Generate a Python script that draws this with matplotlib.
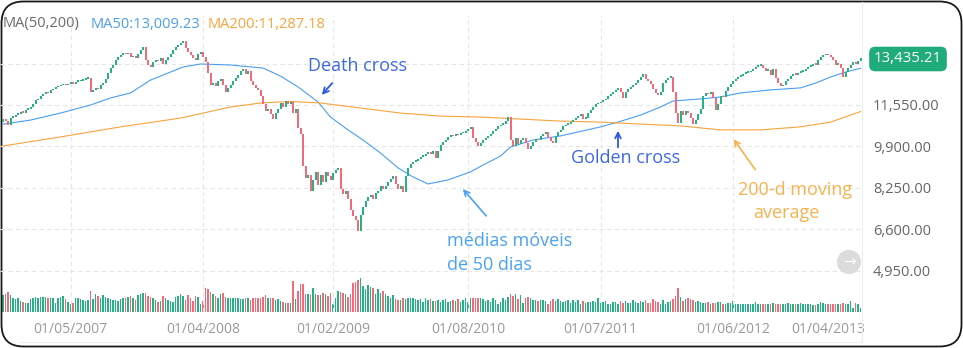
# 均线金叉死叉示意图 (周K线 + MA50/MA200 + 成交量)
import matplotlib
matplotlib.use('Agg')
import matplotlib.pyplot as plt
from matplotlib.patches import FancyBboxPatch
from matplotlib.lines import Line2D
from matplotlib.transforms import IdentityTransform
import numpy as np

plt.rcParams['font.family'] = ['Open Sans', 'DejaVu Sans']

# ---- 数据 ----
first_open = 10900
closes = [
    11030, 10950, 10790, 11070, 11110, 11190, 11230, 11310, 11270, 11390,
    11430, 11510, 11590, 11750, 11790, 11910, 11990, 12070, 12030, 12150,
    12190, 12270, 12310, 12350, 12380, 12350, 12420, 12460, 12420, 12500,
    12520, 12540, 12580, 12620, 12660, 12070, 12150, 12230, 12190, 12350,
    12460, 12620, 12860, 13060, 13180, 13340, 13460, 13540, 13620, 13580,
    13620, 13460, 13500, 13420, 13580, 13740, 13860, 13340, 13180, 13100,
    13260, 13340, 13300, 13420, 13220, 13340, 13460, 13580, 13740, 13860,
    13940, 14050, 14130, 13820, 13660, 13540, 13420, 13340, 13580, 13660,
    13460, 13260, 12860, 12350, 12460, 12310, 12540, 12620, 12380, 12070,
    12230, 12380, 12540, 12660, 12780, 12940, 13020, 12820, 12940, 12540,
    12380, 12230, 12150, 11910, 11590, 11350, 11430, 11230, 11030, 11270,
    11430, 11630, 11510, 11710, 11590, 11670, 11270, 11430, 10640, 10400,
    9160, 8650, 8770, 8170, 8570, 8890, 8370, 8770, 8490, 8890,
    8730, 8570, 8850, 8970, 9050, 8250, 8050, 8170, 7850, 7380,
    7140, 6980, 6580, 7180, 7530, 7770, 7930, 8010, 7850, 8090,
    8170, 8330, 8250, 8330, 8490, 8610, 8730, 8410, 8250, 8330,
    8130, 8730, 9080, 9240, 9320, 9360, 9440, 9520, 9560, 9640,
    9720, 9640, 9760, 9480, 9760, 9960, 10080, 10160, 10280, 10360,
    10320, 10400, 10360, 10440, 10460, 10520, 10600, 10680, 10240, 10080,
    9920, 10040, 10160, 10240, 10320, 10400, 10520, 10600, 10720, 10790,
    10830, 10950, 11110, 10160, 9920, 10240, 10000, 10160, 10240, 10040,
    9840, 9920, 10080, 10200, 10160, 10320, 10400, 10480, 10280, 10120,
    10040, 10320, 10480, 10560, 10720, 10790, 10830, 10910, 10990, 11070,
    11150, 11230, 11030, 11070, 11270, 11390, 11510, 11590, 11630, 11670,
    11750, 11790, 11910, 11990, 12070, 12150, 12230, 12070, 11830, 12070,
    12190, 12270, 12350, 12460, 12580, 12700, 12820, 12620, 12540, 12420,
    12190, 12030, 11950, 12070, 12460, 12580, 12660, 12700, 12070, 11270,
    10870, 11350, 11190, 11350, 11270, 11070, 10830, 10990, 11230, 11430,
    11910, 12030, 11990, 12070, 11830, 11390, 11590, 11910, 11870, 12110,
    12270, 12420, 12540, 12620, 12700, 12740, 12820, 12860, 12880, 12940,
    13020, 13100, 13140, 13180, 13060, 12940, 12980, 12780, 13020, 12660,
    12460, 12310, 12380, 12540, 12620, 12740, 12820, 12780, 12860, 12900,
    12940, 13020, 13100, 13140, 13220, 13180, 13340, 13460, 13540, 13580,
    13540, 13460, 13340, 13180, 13220, 13060, 12700, 12900, 13060, 13180,
    13260, 13220, 13300, 13435.21,
]

volumes = [
    1.7, 1.8, 2.0, 1.7, 1.4, 1.3, 1.4, 1.1, 1.0, 0.9,
    0.9, 1.3, 1.4, 1.5, 1.4, 1.5, 1.5, 1.5, 1.4, 1.4,
    1.4, 0.9, 1.4, 1.5, 1.6, 1.3, 1.0, 0.8, 0.9, 1.4,
    1.4, 1.3, 1.2, 1.1, 1.2, 2.1, 1.3, 1.8, 1.6, 1.4,
    1.7, 1.5, 1.4, 1.3, 1.2, 1.2, 1.1, 1.3, 1.4, 1.4,
    1.5, 1.6, 1.4, 1.2, 1.7, 1.8, 1.9, 1.9, 1.6, 1.5,
    1.4, 1.2, 1.0, 1.1, 1.6, 1.4, 1.2, 1.1, 1.0, 1.5,
    1.6, 1.8, 1.6, 1.2, 1.7, 1.4, 1.1, 1.6, 1.5, 0.8,
    1.1, 2.4, 2.3, 2.0, 1.8, 1.6, 1.4, 1.8, 1.9, 1.5,
    1.4, 1.4, 1.4, 1.4, 1.4, 1.3, 1.3, 1.4, 1.4, 1.2,
    1.4, 1.4, 1.4, 1.4, 1.5, 1.7, 1.4, 1.4, 1.4, 1.2,
    1.3, 1.1, 1.0, 0.9, 0.9, 0.9, 3.1, 1.3, 2.1, 2.8,
    2.8, 1.8, 1.8, 1.7, 2.4, 1.8, 1.7, 1.7, 1.9, 1.8,
    1.6, 1.9, 0.8, 1.4, 2.1, 2.0, 1.9, 1.8, 1.5, 1.8,
    2.9, 3.0, 3.2, 3.4, 2.6, 2.3, 2.7, 2.5, 2.4, 1.8,
    2.3, 1.9, 2.1, 1.8, 1.6, 1.4, 1.7, 1.3, 1.2, 1.2,
    1.4, 1.3, 1.4, 1.4, 1.4, 1.3, 1.2, 1.3, 1.0, 1.4,
    1.2, 1.3, 1.1, 1.1, 1.2, 1.0, 1.2, 1.3, 1.0, 1.1,
    1.2, 1.1, 1.3, 1.0, 1.2, 1.4, 1.0, 1.4, 1.4, 1.4, 1.4, 1.4,
    1.3, 1.1, 1.2, 1.0, 1.4, 1.2, 0.8, 1.0, 1.4, 1.2,
    1.5, 1.8, 1.6, 1.8, 1.3, 1.7, 0.9, 1.4, 1.5, 1.4,
    1.2, 1.2, 1.1, 1.2, 1.2, 1.1, 0.8, 1.1, 1.3, 1.1,
    1.3, 1.1, 1.0, 1.1, 1.2, 0.9, 1.2, 1.0, 1.2, 0.8,
    1.1, 0.9, 1.0, 1.0, 1.1, 1.0, 1.4, 0.9, 1.0, 1.1,
    0.8, 0.8, 1.0, 1.0, 0.8, 1.1, 0.9, 1.1, 0.9, 0.9,
    1.2, 1.0, 0.9, 1.1, 1.0, 1.2, 0.9, 0.9, 1.3, 1.1,
    1.0, 0.8, 1.2, 0.8, 1.0, 1.1, 1.3, 1.6, 2.4, 1.5,
    1.1, 1.3, 1.4, 1.3, 1.2, 1.0, 1.1, 1.0, 0.9, 0.9,
    1.0, 0.8, 0.9, 0.9, 1.0, 1.0, 0.8, 0.8, 0.9, 0.9,
    1.1, 0.8, 0.8, 0.8, 0.8, 0.8, 0.8, 0.8, 0.8, 1.0,
    0.8, 0.8, 0.8, 0.8, 0.8, 0.8, 0.9, 0.8, 0.8, 0.8,
    0.8, 0.8, 0.9, 0.8, 0.8, 0.8, 0.8, 0.9, 0.8, 0.8,
    0.8, 0.8, 0.7, 0.7, 0.8, 1.0, 0.9, 0.8, 0.8, 0.8,
    0.8, 0.8, 0.8, 0.8, 0.9, 0.8, 0.8, 1.1, 0.4, 0.9, 0.8, 0.4,
]

# 均线 (K线序号, 数值)
ma50_idx = [0, 11, 23, 35, 43, 51, 59, 67, 72, 79, 91, 104, 111, 118, 126,
            131, 138, 144, 151, 158, 164, 170, 178, 187, 192, 199, 203, 212,
            223, 239, 246, 255, 263, 268, 279, 287, 295, 307, 319, 325, 331,
            337, 343]
ma50_val = [10790, 10950, 11230, 11550, 11830, 12030, 12540, 12860, 13060,
            13180, 13140, 13020, 12700, 12270, 11670, 11070, 10560, 10160,
            9640, 9050, 8690, 8410, 8570, 8890, 9160, 9520, 9880, 10160,
            10320, 10680, 10870, 11150, 11470, 11710, 11790, 11870, 12030,
            12150, 12230, 12420, 12660, 12860, 13009.23]
ma200_idx = [0, 23, 47, 71, 91, 103, 115, 127, 143, 159, 175, 191, 223, 239,
             255, 271, 287, 303, 319, 331, 343]
ma200_val = [9920, 10280, 10680, 11030, 11470, 11630, 11690, 11630, 11430,
             11230, 11110, 11070, 10910, 10870, 10790, 10720, 10560, 10560,
             10680, 10870, 11287.18]

price_ticks = [4950, 6600, 8250, 9900, 11550]
extra_grid = [13200]
date_idx = [27, 80, 132, 186, 239, 292, 330]
date_labels = ['01/05/2007', '01/04/2008', '01/02/2009', '01/08/2010',
               '01/07/2011', '01/06/2012', '01/04/2013']

UP = '#26b383'
DOWN = '#f26b79'
BLUE = '#4a9ef0'
ORANGE = '#f7a43c'
GRID = '#e6e6e6'

W, H = 963, 348
fig = plt.figure(figsize=(W / 100, H / 100), dpi=100)
fig.patch.set_facecolor('white')


def fx(x):
    return x / W


def fy(y):
    return 1 - y / H


# 主图: 像素 0..862 x 15..312
ax = fig.add_axes([0, fy(312), fx(862), (312 - 15) / H])
n = len(closes)
idx = np.arange(n)
c = np.array(closes, dtype=float)
o = np.array([first_open] + closes[:-1], dtype=float)
up = c >= o
colors = np.where(up, UP, DOWN)

ax.set_xlim(-1.2, 343.6)
ax.set_ylim(11550 - 207 * 39.76, 11550 + 90 * 39.76)

# 网格
for v in price_ticks + extra_grid:
    ax.axhline(v, color=GRID, lw=0.8, ls=(0, (4, 3)), zorder=0)
for i in date_idx[:6]:
    ax.axvline(i, color=GRID, lw=0.8, ls=(0, (4, 3)), zorder=0)

# 成交量
axv = ax.twinx()
axv.set_ylim(0, 29.7)
axv.bar(idx, volumes, width=0.7, color=colors, linewidth=0, zorder=1)
axv.axis('off')

ax.set_zorder(axv.get_zorder() + 1)
ax.patch.set_visible(False)

# 均线
ax.plot(ma50_idx, ma50_val, color=BLUE, lw=0.8, zorder=2)
ax.plot(ma200_idx, ma200_val, color=ORANGE, lw=0.8, zorder=2)

# K线
body = np.maximum(np.abs(c - o), 60)
ax.bar(idx, body, bottom=np.minimum(o, c) - 20, width=0.8, color=colors,
       linewidth=0, zorder=3)

# 坐标轴
for s in ax.spines.values():
    s.set_visible(False)
ax.yaxis.tick_right()
ax.set_yticks(price_ticks)
ax.set_yticklabels([f'{v:,.2f}' for v in price_ticks])
ax.tick_params(axis='y', length=0, pad=8, labelcolor='#666666', labelsize=10.5)
ax.set_xticks(date_idx)
ax.set_xticklabels(date_labels)
ax.tick_params(axis='x', length=0, pad=7, labelcolor='#9a9a9a', labelsize=10)

# 分隔线
fig.add_artist(Line2D([862, 862], [H - 2, H - 342], color='#eeeeee', lw=0.8,
                      transform=IdentityTransform()))
fig.add_artist(Line2D([20, 862], [H - 342, H - 342], color='#eeeeee', lw=0.8,
                      transform=IdentityTransform()))

# 顶部图例
fig.text(fx(3), fy(24), 'MA(50,200)', color='#6b6b6b', fontsize=10.5, va='center')
fig.text(fx(91), fy(24), f'MA50:{ma50_val[-1]:,.2f}', color=BLUE, fontsize=10.5, va='center')
fig.text(fx(208), fy(24), f'MA200:{ma200_val[-1]:,.2f}', color=ORANGE, fontsize=10.5, va='center')

# 最新价标签
fig.text(fx(908), fy(59), f'{closes[-1]:,.2f}', color='white', fontsize=10.8,
         ha='center', va='center',
         bbox=dict(boxstyle='round,pad=0.32,rounding_size=0.4', fc='#20ab7b', ec='none'))

# 灰色圆形箭头
fig.text(fx(849), fy(262), '→', color='white', fontsize=11, ha='center', va='center',
         family=['DejaVu Sans'],
         bbox=dict(boxstyle='circle,pad=0.3', fc='#dcdcdc', ec='none'))

# 注释
DARK_BLUE = '#3a68e6'
ann = dict(xycoords='figure pixels', textcoords='figure pixels')
ax.annotate('Death cross', xy=(357, H - 66), ha='center', va='center',
            fontsize=13, color=DARK_BLUE, **ann)
ax.annotate('', xy=(320, H - 97), xytext=(334, H - 81),
            arrowprops=dict(arrowstyle='->', color='#2a58e0', lw=1.3), **ann)

ax.annotate('Golden cross', xy=(626, H - 158), ha='center', va='center',
            fontsize=13, color=DARK_BLUE, **ann)
ax.annotate('', xy=(618, H - 128), xytext=(618, H - 150),
            arrowprops=dict(arrowstyle='->', color='#2a58e0', lw=1.3), **ann)

ax.annotate('200-d moving', xy=(795, H - 190), ha='center', va='center',
            fontsize=13, color='#f7b24d', **ann)
ax.annotate('average', xy=(786, H - 213), ha='center', va='center',
            fontsize=13, color='#f7b24d', **ann)
ax.annotate('', xy=(732, H - 137), xytext=(757, H - 172),
            arrowprops=dict(arrowstyle='->', color='#f7b24d', lw=1.2), **ann)

ax.annotate('médias móveis', xy=(447, H - 241), ha='left', va='center',
            fontsize=13, color='#4aa3f2', **ann)
ax.annotate('de 50 dias', xy=(447, H - 265), ha='left', va='center',
            fontsize=13, color='#4aa3f2', **ann)
ax.annotate('', xy=(461, H - 187), xytext=(488, H - 218),
            arrowprops=dict(arrowstyle='->', color='#4aa3f2', lw=1.2), **ann)

# 卡片圆角边框
card = FancyBboxPatch((1.5, 1.5), W - 3, H - 3,
                      boxstyle='round,pad=0,rounding_size=22',
                      transform=IdentityTransform(), fill=False,
                      ec='#1a1a1a', lw=1.3)
fig.add_artist(card)

fig.savefig('out.png', dpi=100)
plt.close(fig)
